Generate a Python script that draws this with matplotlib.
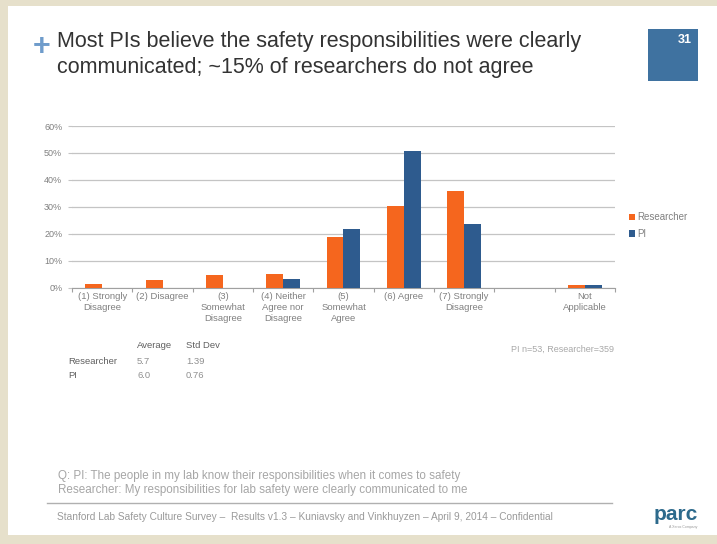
import matplotlib
matplotlib.use("Agg")
import matplotlib.pyplot as plt
from matplotlib.patches import Rectangle
import numpy as np

plt.rcParams['font.family'] = ['Liberation Sans', 'DejaVu Sans']

# data
categories = ["(1) Strongly\nDisagree", "(2) Disagree", "(3)\nSomewhat\nDisagree",
              "(4) Neither\nAgree nor\nDisagree", "(5)\nSomewhat\nAgree", "(6) Agree",
              "(7) Strongly\nDisagree", "", "Not\nApplicable"]
researcher = [1.4, 2.7, 4.7, 5.1, 18.8, 30.5, 36.0, 0.0, 1.1]
pi = [0.0, 0.0, 0.0, 3.4, 21.7, 50.7, 23.8, 0.0, 1.1]
yticks = [0, 10, 20, 30, 40, 50, 60]

stat_rows = ["Researcher", "PI"]
stat_avg = ["5.7", "6.0"]
stat_sd = ["1.39", "0.76"]

orange = "#f5661e"
blue = "#2e5b8e"
grey_txt = "#808080"

W, H = 717, 544
fig = plt.figure(figsize=(W / 100, H / 100), dpi=100)
fig.patch.set_facecolor("#e6e0cb")

# white slide
fig.add_artist(Rectangle((8 / W, 1 - 535 / H), 1, (535 - 6) / H,
                         transform=fig.transFigure, facecolor="white",
                         edgecolor="none", zorder=0))

def fx(x):
    return x / W

def fy(y):
    return 1 - y / H

# title
fig.text(fx(33), fy(47), "+", fontsize=22, color="#6f9ccb", fontweight="bold",
         va="center", ha="left")
fig.text(fx(57), fy(42), "Most PIs believe the safety responsibilities were clearly",
         fontsize=15.5, color="#333333", va="center")
fig.text(fx(57), fy(67), "communicated; ~15% of researchers do not agree",
         fontsize=15.5, color="#333333", va="center")

# slide number box
fig.add_artist(Rectangle((fx(648), fy(81)), 50 / W, 52 / H, transform=fig.transFigure,
                         facecolor="#3f72a0", edgecolor="none"))
fig.text(fx(692), fy(40), "31", fontsize=9, color="white", fontweight="bold",
         ha="right", va="center")

# chart
ax = fig.add_axes([fx(72), fy(287.7), (615 - 72) / W, (287.7 - 126) / H])
x = np.arange(len(categories))
bw = 0.28
ax.bar(x - bw / 2, researcher, bw, color=orange, label="Researcher", zorder=3)
ax.bar(x + bw / 2, pi, bw, color=blue, label="PI", zorder=3)
ax.set_xlim(-0.5, len(categories) - 0.5)
ax.set_ylim(0, 60)
ax.set_yticks(yticks)
ax.set_yticklabels([f"{v}%" for v in yticks], fontsize=6.5, color=grey_txt)
ax.yaxis.grid(True, color="#c4c4c4", linewidth=0.9, zorder=0)
ax.set_xticks(np.arange(len(categories) + 1) - 0.5)
ax.set_xticklabels([])
ax.tick_params(axis="x", length=3, color="#a0a0a0", direction="out")
ax.tick_params(axis="y", length=3, color="#c4c4c4", pad=4)
for s in ["top", "right", "left"]:
    ax.spines[s].set_visible(False)
ax.spines["bottom"].set_color("#a0a0a0")
for i, c in enumerate(categories):
    ax.text(i, -1.6, c, ha="center", va="top", fontsize=6.8, color=grey_txt,
            linespacing=1.3)

leg = ax.legend(loc="center left", bbox_to_anchor=(1.01, 0.385), frameon=False,
                fontsize=7, handlelength=0.6, handleheight=0.6, handletextpad=0.2,
                labelspacing=0.7)
for t in leg.get_texts():
    t.set_color(grey_txt)

# stats table
fig.text(fx(137), fy(346), "Average", fontsize=6.8, color="#606060", va="center")
fig.text(fx(186), fy(346), "Std Dev", fontsize=6.8, color="#606060", va="center")
for i, row in enumerate(stat_rows):
    yy = fy(361 + i * 14)
    fig.text(fx(68), yy, row, fontsize=6.8, color="#606060", va="center")
    fig.text(fx(137), yy, stat_avg[i], fontsize=6.8, color="#909090", va="center")
    fig.text(fx(186), yy, stat_sd[i], fontsize=6.8, color="#909090", va="center")

fig.text(fx(614), fy(349), "PI n=53, Researcher=359", fontsize=6.5, color="#a8a8a8",
         ha="right", va="center")

# question
fig.text(fx(58), fy(476), "Q: PI: The people in my lab know their responsibilities when it comes to safety",
         fontsize=8.4, color="#a6a6a6", va="center")
fig.text(fx(58), fy(490), "Researcher: My responsibilities for lab safety were clearly communicated to me",
         fontsize=8.4, color="#a6a6a6", va="center")

# footer
fig.add_artist(plt.Line2D([fx(47), fx(612)], [fy(503), fy(503)],
                          transform=fig.transFigure, color="#b0b0b0", linewidth=1))
fig.text(fx(57), fy(517), "Stanford Lab Safety Culture Survey \u2013  Results v1.3 \u2013 "
         "Kuniavsky and Vinkhuyzen \u2013 April 9, 2014 \u2013 Confidential",
         fontsize=7.3, color="#9a9a9a", va="center")
fig.text(fx(676), fy(514), "parc", fontsize=15, color="#2d6a8c", fontweight="bold",
         ha="center", va="center")
fig.text(fx(683), fy(527), "A Xerox Company", fontsize=2.5, color="#9a9a9a",
         ha="center", va="center")

fig.savefig("out.png", dpi=100, facecolor=fig.get_facecolor())
